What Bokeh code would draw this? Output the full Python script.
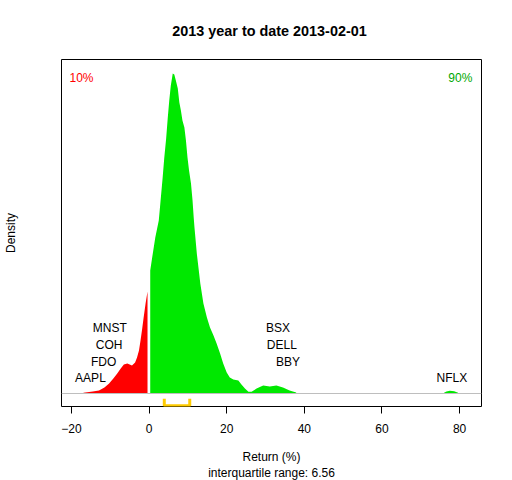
from bokeh.plotting import figure
from bokeh.models import Range1d, FixedTicker, Span, Label, Title
from bokeh.core.properties import value
from bokeh.embed import file_html
from bokeh.resources import INLINE

# ---- data ----
neg_x = [-16.9, -14.5, -12.9, -11.5, -10.3, -9.2, -8.2, -7.3, -6.5, -5.6,
         -4.4, -3.6, -3.1, -2.6, -2.2, -1.8, -1.4, -0.9, -0.4]
neg_density = [0.0002, 0.0006, 0.0009, 0.0018, 0.0030, 0.0045, 0.0060, 0.0075,
               0.0087, 0.0090, 0.0084, 0.0093, 0.0108, 0.0129, 0.0159, 0.0192,
               0.0228, 0.0270, 0.0306]
pos_x = [0.3, 0.8, 1.6, 2.5, 2.9, 3.5, 3.9, 4.4, 4.8, 5.2, 5.6, 6.1, 6.5, 6.9,
         7.4, 7.8, 8.2, 8.6, 9.1, 9.5, 9.9, 10.3, 10.8, 11.2, 11.5, 11.7, 12.3,
         13.2, 14.0, 14.9, 15.7, 16.6, 17.4, 18.3, 19.1, 20.0, 20.8, 21.7, 23.0,
         23.8, 24.7, 25.6, 26.4, 27.7, 29.4, 31.1, 32.8, 34.5, 36.2, 37.9]
pos_density = [0.0369, 0.0408, 0.0468, 0.0519, 0.0570, 0.0648, 0.0705, 0.0765,
               0.0825, 0.0879, 0.0924, 0.0960, 0.0957, 0.0939, 0.0915, 0.0873,
               0.0849, 0.0819, 0.0798, 0.0759, 0.0708, 0.0669, 0.0630, 0.0579,
               0.0528, 0.0498, 0.0420, 0.0330, 0.0270, 0.0228, 0.0198, 0.0174,
               0.0150, 0.0120, 0.0090, 0.0063, 0.0048, 0.0042, 0.0039, 0.0027,
               0.0015, 0.0005, 0.0005, 0.0015, 0.0024, 0.0021, 0.0024, 0.0018,
               0.0009, 0.0003]
out_x = [76.0, 76.6, 77.5, 78.6, 79.6]
out_density = [0.0002, 0.0006, 0.0008, 0.0007, 0.0002]

label_names = ["AAPL", "FDO", "COH", "MNST", "BBY", "DELL", "BSX", "NFLX"]
label_returns = [-15.1, -11.7, -10.3, -10.1, 35.8, 34.2, 33.2, 78.0]
label_rows = [0, 1, 2, 3, 1, 2, 3, 0]

iqr_low, iqr_high = 3.92, 10.48
x_ticks = [-20, 0, 20, 40, 60, 80]
title_text = "2013  year to date 2013-02-01"
xlabel_text = "Return (%)"
iqr_text = "interquartile range: 6.56"

FONT = "Liberation Sans"
RED = "#FF0000"
GREEN = "#00E800"
DKGREEN = "#00A800"
GOLD = "#FFCC00"

X0, X1 = -22.56, 85.64
Y0, Y1 = -0.0039, 0.1002

p = figure(width=512, height=480, output_backend="svg", toolbar_location=None,
           x_range=Range1d(X0, X1), y_range=Range1d(Y0, Y1),
           min_border_left=59, min_border_right=31, min_border_top=59,
           min_border_bottom=74)
p.xgrid.visible = False
p.ygrid.visible = False
p.outline_line_color = "black"
p.outline_line_width = 1
p.background_fill_color = "white"
p.border_fill_color = "white"

p.varea(x=neg_x, y1=[0] * len(neg_x), y2=neg_density, fill_color=RED)
p.varea(x=pos_x, y1=[0] * len(pos_x), y2=pos_density, fill_color=GREEN)
p.varea(x=out_x, y1=[0] * len(out_x), y2=out_density, fill_color=GREEN)

p.add_layout(Span(location=0, dimension="width", line_color="#BEBEBE", line_width=1))

# IQR bracket
b_top, b_bot = -0.0016, -0.0037
p.line(x=[iqr_low, iqr_low, iqr_high, iqr_high], y=[b_top, b_bot, b_bot, b_top],
       line_color=GOLD, line_width=3)

# stock labels
row_y = [0.0046 + 0.005 * r for r in label_rows]
p.text(x=label_returns, y=row_y, text=label_names, text_align="center",
       text_baseline="middle", text_font=value(FONT), text_font_size="12px",
       text_color="black")

p.add_layout(Label(x=-17.4, y=0.0947, text="10%", text_color=RED, text_align="center",
                   text_baseline="middle", text_font=FONT, text_font_size="12px"))
p.add_layout(Label(x=80.2, y=0.0947, text="90%", text_color=DKGREEN, text_align="center",
                   text_baseline="middle", text_font=FONT, text_font_size="12px"))

# title
p.title.text = title_text
p.title.align = "center"
p.title.text_font = FONT
p.title.text_font_size = "14.4px"
p.title.text_font_style = "bold"
p.title.text_color = "black"
p.title.standoff = 41

# x axis
xa = p.xaxis[0]
xa.ticker = FixedTicker(ticks=x_ticks)
xa.axis_line_color = None
xa.major_tick_out = 7
xa.major_tick_in = 0
xa.minor_tick_out = 0
xa.minor_tick_in = 0
xa.major_label_standoff = 10
xa.major_label_text_font = FONT
xa.major_label_text_font_size = "12px"
xa.major_label_text_color = "black"
xa.axis_label = xlabel_text
xa.axis_label_text_font = FONT
xa.axis_label_text_font_size = "12px"
xa.axis_label_text_font_style = "normal"
xa.axis_label_text_color = "black"
xa.axis_label_standoff = 14

p.add_layout(Title(text=iqr_text, align="center", text_font=FONT,
                   text_font_size="12px", text_font_style="normal",
                   text_color="black", standoff=-6), "below")

# y axis
ya = p.yaxis[0]
ya.ticker = FixedTicker(ticks=[])
ya.axis_line_color = None
ya.major_tick_out = 0
ya.major_tick_in = 0
ya.minor_tick_out = 0
ya.minor_tick_in = 0
ya.axis_label = "Density"
ya.axis_label_text_font = FONT
ya.axis_label_text_font_size = "12px"
ya.axis_label_text_font_style = "normal"
ya.axis_label_text_color = "black"
ya.axis_label_standoff = 44

open("out.html", "w").write(file_html(p, INLINE))
